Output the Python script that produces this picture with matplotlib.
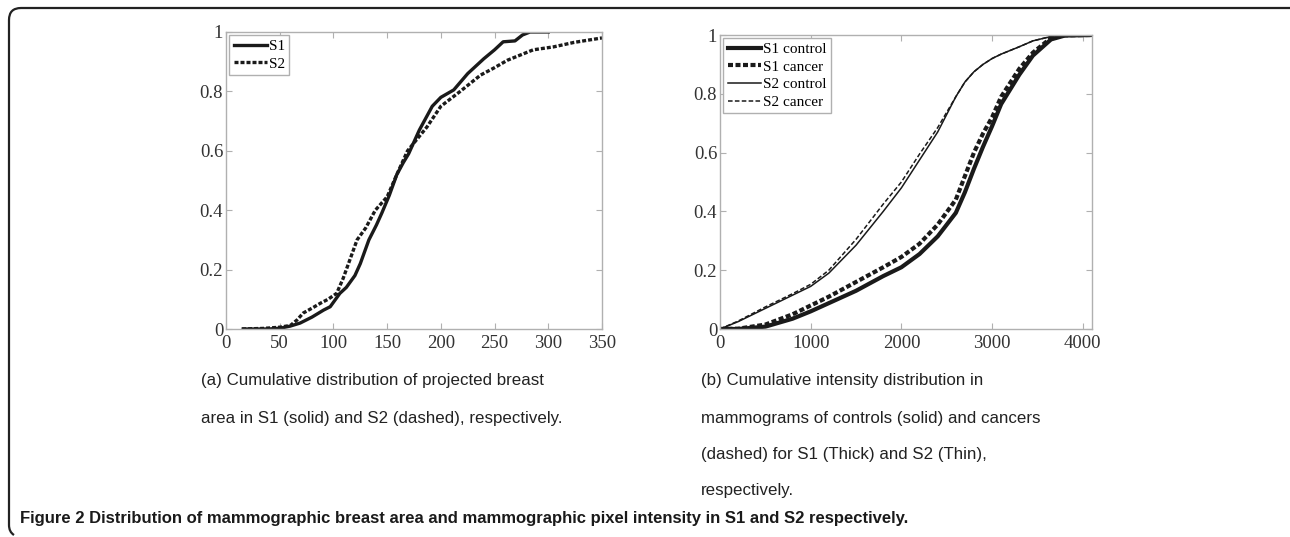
import numpy as np
import matplotlib.pyplot as plt
from matplotlib.path import Path
from matplotlib.patches import PathPatch

# (a) projected breast area
area_s1_x = [16, 40, 51, 60, 69, 80, 91, 97, 106, 112, 120, 125, 130, 133, 140, 145, 152, 159,
             165, 170, 180, 192, 200, 212, 225, 240, 250, 258, 269, 276, 283, 300]
area_s1_y = [0.0, 0.0, 0.003, 0.01, 0.02, 0.04, 0.064, 0.075, 0.12, 0.14, 0.18, 0.22, 0.27,
             0.30, 0.35, 0.39, 0.45, 0.52, 0.56, 0.59, 0.67, 0.75, 0.78, 0.805, 0.86, 0.91,
             0.94, 0.967, 0.97, 0.99, 1.0, 1.0]
area_s2_x = [15, 35, 50, 60, 66, 72, 80, 88, 95, 103, 109, 116, 122, 130, 139, 150, 159,
             169, 178, 187, 200, 218, 237, 250, 262, 286, 305, 324, 350]
area_s2_y = [0.0, 0.002, 0.006, 0.012, 0.03, 0.054, 0.07, 0.087, 0.1, 0.12, 0.17, 0.24, 0.3,
             0.34, 0.4, 0.445, 0.52, 0.6, 0.64, 0.68, 0.75, 0.8, 0.855, 0.88, 0.905, 0.94,
             0.95, 0.965, 0.98]

# (b) pixel intensity
int_x = [0, 200, 500, 800, 1000, 1200, 1500, 1800, 2000, 2200, 2400, 2600, 2700,
         2800, 2900, 3000, 3100, 3300, 3450, 3650, 3800, 4096]
s1_control = [0.0, 0.0, 0.008, 0.035, 0.06, 0.088, 0.13, 0.18, 0.21, 0.255, 0.315, 0.395, 0.465,
              0.545, 0.62, 0.69, 0.765, 0.865, 0.93, 0.985, 0.998, 1.0]
s1_cancer = [0.0, 0.001, 0.015, 0.05, 0.08, 0.11, 0.16, 0.21, 0.245, 0.29, 0.355, 0.44, 0.52,
             0.6, 0.665, 0.72, 0.79, 0.885, 0.94, 0.99, 0.999, 1.0]
s2_control = [0.0, 0.025, 0.07, 0.115, 0.145, 0.19, 0.285, 0.4, 0.48, 0.575, 0.67, 0.79, 0.84,
              0.875, 0.9, 0.92, 0.935, 0.96, 0.98, 0.995, 1.0, 1.0]
s2_cancer = [0.0, 0.027, 0.075, 0.12, 0.152, 0.2, 0.305, 0.425, 0.5, 0.595, 0.685, 0.79, 0.84,
             0.875, 0.9, 0.92, 0.935, 0.96, 0.98, 0.995, 1.0, 1.0]

W, H = 1290, 537
fig = plt.figure(figsize=(W / 100, H / 100), dpi=100)


def box(l, t, r, b):
    return [l / W, 1 - b / H, (r - l) / W, (b - t) / H]


serif = 'Liberation Serif'
grey = '#b0b0b0'


def style(ax, xt, xl):
    ax.set_ylim(0, 1)
    ax.set_yticks([0, 0.2, 0.4, 0.6, 0.8, 1])
    ax.set_yticklabels(['0', '0.2', '0.4', '0.6', '0.8', '1'])
    ax.set_xticks(xt)
    ax.set_xlim(xl)
    for s in ax.spines.values():
        s.set_color(grey)
        s.set_linewidth(1)
    ax.tick_params(direction='in', length=4, color=grey, top=True, right=True,
                   labelsize=13.5, pad=2)
    ax.tick_params(axis='x', pad=4)
    for lab in ax.get_xticklabels() + ax.get_yticklabels():
        lab.set_fontfamily(serif)
        lab.set_color('#333333')


def legend(ax):
    leg = ax.legend(loc='upper left', prop={'family': serif, 'size': 11}, handlelength=2.2,
                    handletextpad=0.1, borderpad=0.3, labelspacing=0.25, fancybox=False,
                    borderaxespad=0.2, framealpha=1)
    leg.get_frame().set_edgecolor(grey)


ax1 = fig.add_axes(box(226, 32, 602, 329))
ax1.plot(area_s1_x, area_s1_y, color='#1a1a1a', lw=2.4, label='S1')
ax1.plot(area_s2_x, area_s2_y, color='#1a1a1a', lw=2.4, ls=(0, (1.2, 0.6)), label='S2')
style(ax1, np.arange(0, 351, 50), (0, 350))
legend(ax1)

ax2 = fig.add_axes(box(720, 35, 1091.5, 329))
ax2.plot(int_x, s1_control, color='#1a1a1a', lw=3, label='S1 control')
ax2.plot(int_x, s1_cancer, color='#1a1a1a', lw=3, ls=(0, (1.2, 0.6)), label='S1 cancer')
ax2.plot(int_x, s2_control, color='#1a1a1a', lw=1.1, label='S2 control')
ax2.plot(int_x, s2_cancer, color='#1a1a1a', lw=1.1, ls=(0, (3, 1.5)), label='S2 cancer')
style(ax2, [0, 1000, 2000, 3000, 4000], (0, 4096))
legend(ax2)

# captions
cap = dict(family='Liberation Sans', fontsize=12.2, color='#222222', va='center')
lines_a = ['(a) Cumulative distribution of projected breast',
           'area in S1 (solid) and S2 (dashed), respectively.']
lines_b = ['(b) Cumulative intensity distribution in',
           'mammograms of controls (solid) and cancers',
           '(dashed) for S1 (Thick) and S2 (Thin),',
           'respectively.']
ys = [381, 418, 455, 491]
for i, t in enumerate(lines_a):
    fig.text(201 / W, 1 - ys[i] / H, t, **cap)
for i, t in enumerate(lines_b):
    fig.text(701 / W, 1 - ys[i] / H, t, **cap)
fig.text(20 / W, 1 - 519 / H,
         'Figure 2 Distribution of mammographic breast area and mammographic pixel '
         'intensity in S1 and S2 respectively.',
         family='Liberation Sans', fontsize=12, fontweight='bold', color='#1a1a1a',
         va='center')

# rounded frame round the figure (open at right and bottom)
r = 12
pts = [(W + 5, 8), (9 + r, 8), (9, 8), (9, 8 + r), (9, 525), (9, 532), (14, 535)]
codes = [Path.MOVETO, Path.LINETO, Path.CURVE3, Path.CURVE3, Path.LINETO, Path.CURVE3, Path.CURVE3]
pts = [(x / W, 1 - y / H) for x, y in pts]
fig.patches.append(PathPatch(Path(pts, codes), transform=fig.transFigure, fill=False,
                             lw=1.6, edgecolor='#222222'))

fig.savefig('out.png', dpi=100)
